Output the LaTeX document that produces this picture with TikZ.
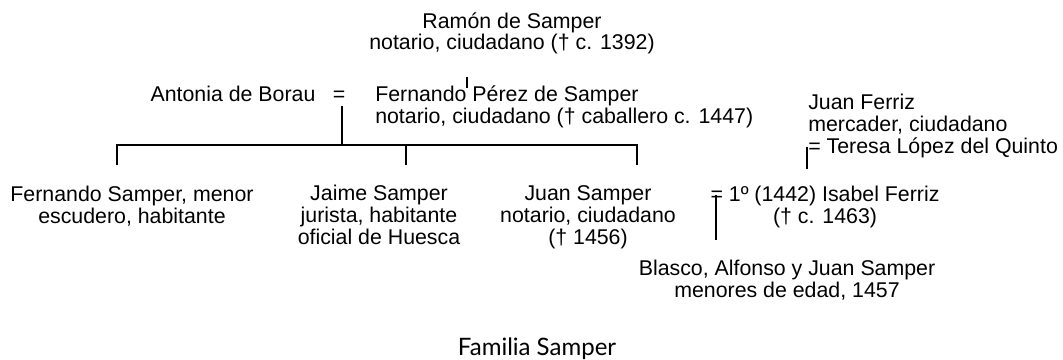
\documentclass[tikz,border=0pt]{standalone}
\usepackage{fontspec}
\setmainfont{Liberation Sans}
\newfontfamily\titlefont{Lato}
\usepackage{tikz}
\usetikzlibrary{calc}

\begin{document}
\begin{tikzpicture}[x=0.75pt,y=-0.75pt,
	person/.style={anchor=base,inner sep=0pt,align=center,font=\fontsize{16}{16.2}\selectfont},
	lperson/.style={person,align=left,anchor=base west},
	tree/.style={line width=1.2pt}]
	\useasboundingbox (0,0) rectangle (1063,360);
	\node[person] (ramon) at (512,50) {Ramón de Samper\\notario, ciudadano († c. 1392)};
	\node[person] (antonia) at (233,101) {Antonia de Borau};
	\node[person] (eq) at (339,101) {=};
	\node[lperson] (fernando) at (375,123) {Fernando Pérez de Samper\\notario, ciudadano († caballero c. 1447)};
	\node[lperson] (ferriz) at (808,153) {Juan Ferriz\\mercader, ciudadano\\= Teresa López del Quinto};
	\node[person] (fsamper) at (132,223) {Fernando Samper, menor\\escudero, habitante};
	\node[person] (jaime) at (379,244) {Jaime Samper\\jurista, habitante\\oficial de Huesca};
	\node[person] (juan) at (588,244) {Juan Samper\\notario, ciudadano\\(† 1456)};
	\node[person] (isabel) at (825,223) {= 1º (1442) Isabel Ferriz\\(† c. 1463)};
	\node[person] (hijos) at (787,297) {Blasco, Alfonso y Juan Samper\\menores de edad, 1457};
	\node[anchor=base,inner sep=0pt,font=\titlefont\fontsize{18}{20}\selectfont] (titulo) at (537,355) {Familia Samper};
	\coordinate (ramon-a) at (467,77);
	\coordinate (ramon-b) at (467,88);
	\coordinate (eq-a) at (342,106);
	\coordinate (eq-b) at (342,145);
	\coordinate (bar-l) at (117,145);
	\coordinate (bar-m) at (406,145);
	\coordinate (bar-r) at (637,145);
	\coordinate (ferriz-a) at (807,147);
	\coordinate (ferriz-b) at (807,169);
	\coordinate (isabel-a) at (716,195);
	\coordinate (isabel-b) at (716,240);
	\draw[tree] (ramon-a)--(ramon-b);
	\draw[tree] (eq-a)--(eq-b);
	\draw[tree] ($(bar-l)+(0,20)$)--(bar-l)--(bar-r)--($(bar-r)+(0,20)$);
	\draw[tree] (bar-m)--($(bar-m)+(0,20)$);
	\draw[tree] (ferriz-a)--(ferriz-b);
	\draw[tree] (isabel-a)--(isabel-b);
\end{tikzpicture}
\end{document}
